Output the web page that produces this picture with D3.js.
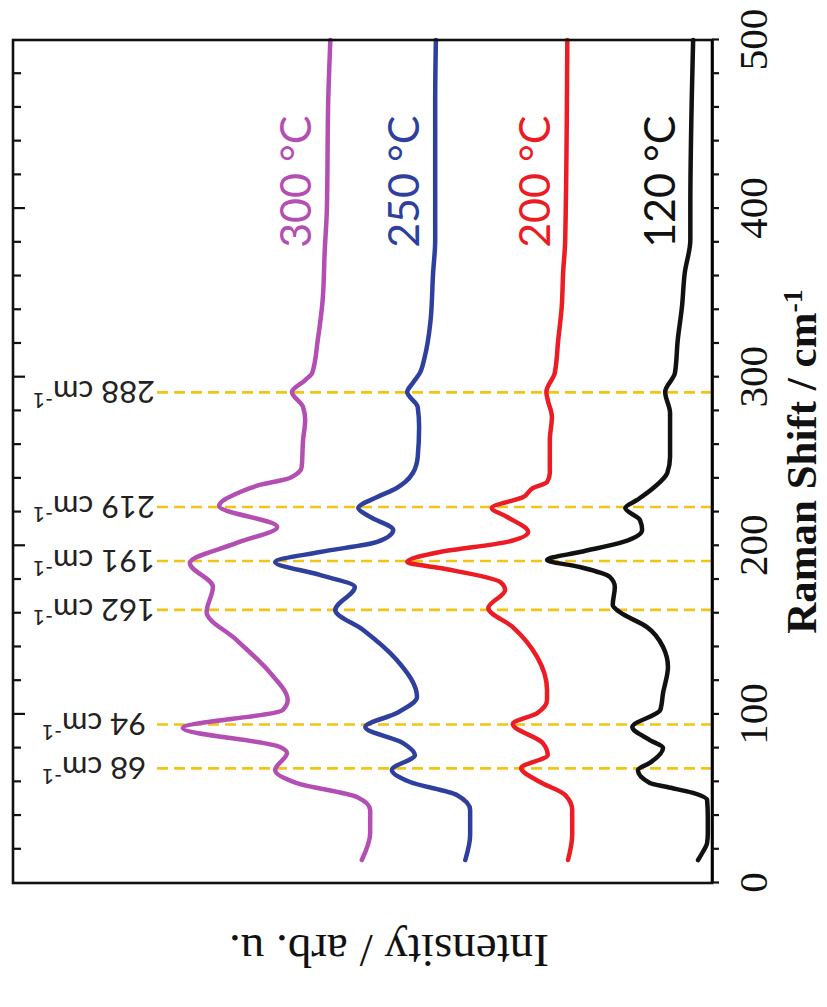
<!DOCTYPE html>
<html>
<head>
<meta charset="utf-8">
<script src="https://cdn.jsdelivr.net/npm/d3@7"></script>
<style>
  body { margin: 0; background: #fff; }
</style>
</head>
<body>
<div id="chart"></div>
<script>
// values: [Raman shift (cm-1), intensity (arb. u., offset stacked)]
const tickLabels = [0, 100, 200, 300, 400, 500];
const peakShift = [68, 94, 162, 191, 223, 291];
const peakLabels = ['68', '94', '162', '191', '219', '288'];
const tempLabels = ['120 °C', '200 °C', '250 °C', '300 °C'];

const s120 = [[13.6,2.0],[17.8,1.4],[23.7,0.7],[29.7,0.6],[39.1,0.6],[49.2,0.7],[53.4,2.7],[56.9,6.4],[59.3,8.9],[67.0,10.6],[71.2,8.9],[80.1,7.0],[84.8,8.9],[92.5,11.4],[102.6,7.4],[112.7,7.0],[128.1,6.3],[140.0,7.0],[151.8,9.3],[160.7,13.2],[164.9,14.2],[175.6,13.9],[181.5,14.6],[187.4,18.9],[191.6,23.6],[196.3,18.9],[202.3,12.7],[209.4,10.0],[215.3,10.3],[222.4,12.4],[227.2,10.7],[234.3,8.4],[243.2,6.4],[252.7,6.0],[278.8,6.0],[291.2,6.7],[302.5,5.3],[322.1,4.9],[341.6,4.3],[361.8,3.9],[381.4,3.1],[400.9,3.1],[464.4,2.9],[500.0,2.7]];

const s200 = [[13.6,20.6],[28.5,20.0],[43.3,20.0],[52.2,21.0],[59.9,24.6],[68.2,27.3],[75.9,23.5],[83.0,24.2],[94.3,28.5],[100.8,25.0],[108.5,23.6],[114.5,23.6],[134.0,25.0],[151.8,28.5],[163.1,32.0],[173.8,29.6],[178.5,30.3],[186.8,38.9],[190.4,43.6],[196.3,38.9],[202.3,29.3],[208.2,26.3],[217.1,29.3],[222.4,31.5],[228.9,27.0],[234.3,25.6],[237.8,23.6],[243.2,23.2],[262.8,23.2],[276.4,22.9],[286.5,23.5],[291.2,23.7],[302.5,22.5],[322.1,22.0],[341.6,21.5],[361.8,21.3],[381.4,21.0],[500.0,20.7]];

const s250 = [[13.6,35.3],[28.5,34.6],[43.3,34.6],[52.2,36.5],[59.9,43.2],[67.0,45.8],[75.9,42.5],[83.0,44.2],[92.5,49.6],[100.8,45.1],[110.3,42.2],[132.3,45.1],[150.1,49.9],[161.9,53.9],[175.6,51.1],[182.7,56.1],[190.4,62.5],[196.3,56.1],[202.3,47.9],[209.4,45.6],[217.1,48.9],[222.4,50.6],[228.9,47.9],[234.3,45.1],[237.8,43.9],[243.2,42.8],[252.7,42.1],[270.5,41.9],[282.3,42.1],[291.2,43.6],[296.6,42.8],[302.5,41.8],[312.0,41.1],[332.1,40.3],[361.8,39.9],[381.4,39.6],[464.4,39.6],[500.0,39.5]];

const s300 = [[13.6,50.1],[29.7,48.9],[43.3,48.9],[51.0,50.8],[59.3,59.4],[67.0,62.5],[77.1,60.8],[80.7,61.8],[91.9,75.7],[102.6,61.4],[108.5,60.7],[124.6,63.2],[144.1,68.0],[160.7,72.3],[175.6,71.4],[189.8,74.7],[201.7,68.0],[211.2,62.2],[223.6,70.5],[231.9,67.5],[236.1,64.7],[240.2,60.4],[246.7,58.7],[262.8,58.5],[274.6,58.2],[282.3,58.5],[291.2,60.1],[298.3,58.2],[302.5,57.2],[322.1,56.4],[345.8,55.7],[375.4,55.4],[399.2,55.1],[464.4,54.9],[500.0,54.6]];

const seriesList = [s120, s200, s250, s300];
const seriesColors = ['#111111', '#ec1c24', '#2f3f9e', '#b34fb3'];

const svgW = 827, svgH = 1007;
// the figure is drawn in normal orientation, then turned a quarter left
const origin = { x: 13, y: 883 };
const width = 843;   // Raman axis length
const height = 699;  // intensity axis length

const svg = d3.select('#chart')
  .append('svg')
  .attr('width', svgW)
  .attr('height', svgH);

const g = svg.append('g')
  .attr('transform', `translate(${origin.x}, ${origin.y}) rotate(-90)`);

const x = d3.scaleLinear().domain([0, 500]).range([0, width]);
const y = d3.scaleLinear().domain([0, 100]).range([height, 0]);

// dashed peak markers
g.selectAll('.peak')
  .data(peakShift)
  .enter()
  .append('line')
  .attr('x1', d => x(d))
  .attr('x2', d => x(d))
  .attr('y1', 144)
  .attr('y2', height)
  .attr('stroke', '#f2c414')
  .attr('stroke-width', 2.6)
  .attr('stroke-dasharray', '11,6');

const peakText = g.selectAll('.peak-label')
  .data(peakShift)
  .enter()
  .append('text')
  .attr('transform', d => `translate(${x(d)}, 81) rotate(-90)`)
  .attr('text-anchor', 'middle')
  .attr('dy', '0.36em')
  .style('font-family', 'Lato, "Open Sans", sans-serif')
  .style('font-size', '31px')
  .style('fill', '#222');
peakText.append('tspan').text((d, i) => peakLabels[i] + ' cm');
peakText.append('tspan')
  .attr('dy', '-0.55em')
  .style('font-size', '21px')
  .text('-1');

// spectra
const line = d3.line()
  .x(d => x(d[0]))
  .y(d => y(d[1]))
  .curve(d3.curveMonotoneX);

g.selectAll('.spec')
  .data(seriesList)
  .enter()
  .append('path')
  .attr('d', line)
  .attr('fill', 'none')
  .attr('stroke', (d, i) => seriesColors[i])
  .attr('stroke-width', 4.5)
  .attr('stroke-linejoin', 'round')
  .attr('stroke-linecap', 'round');

// temperature labels sit just above each trace near 416 cm-1
function valueAt(s, r) {
  const i = d3.bisector(d => d[0]).left(s, r);
  const a = s[Math.max(0, i - 1)], b = s[Math.min(s.length - 1, i)];
  if (a[0] === b[0]) return a[1];
  return a[1] + (b[1] - a[1]) * (r - a[0]) / (b[0] - a[0]);
}
g.selectAll('.temp')
  .data(seriesList)
  .enter()
  .append('text')
  .attr('x', x(416))
  .attr('y', d => y(valueAt(d, 416)) - 16)
  .attr('text-anchor', 'middle')
  .style('font-family', 'Lato, "Open Sans", sans-serif')
  .style('font-size', '43px')
  .style('fill', (d, i) => seriesColors[i])
  .text((d, i) => tempLabels[i]);

// frame
g.append('rect')
  .attr('x', 0)
  .attr('y', 0)
  .attr('width', width)
  .attr('height', height)
  .attr('fill', 'none')
  .attr('stroke', '#111')
  .attr('stroke-width', 2.6);

// bottom (Raman) axis
const xAxis = d3.axisBottom(x)
  .tickValues(d3.range(0, 501, 20))
  .tickSize(7)
  .tickSizeOuter(0)
  .tickPadding(19)
  .tickFormat(d => tickLabels.includes(d) ? d : '');
const xg = g.append('g')
  .attr('transform', `translate(0, ${height})`)
  .call(xAxis);
xg.select('.domain').attr('stroke-width', 2.6);
xg.selectAll('.tick line').attr('stroke', '#111').attr('stroke-width', 2.2);
xg.selectAll('text')
  .style('font-family', '"Liberation Serif", "Times New Roman", serif')
  .style('font-size', '41px')
  .style('fill', '#111');

// mirrored ticks along the top
const topMinor = g.append('g')
  .call(d3.axisTop(x).tickValues(d3.range(20, 500, 20).filter(d => d % 100 !== 0)).tickSize(-8).tickSizeOuter(0).tickFormat(''));
const topMajor = g.append('g')
  .call(d3.axisTop(x).tickValues(d3.range(100, 500, 100)).tickSize(-12).tickSizeOuter(0).tickFormat(''));
[topMinor, topMajor].forEach(a => {
  a.select('.domain').remove();
  a.selectAll('.tick line').attr('stroke', '#111').attr('stroke-width', 2.2);
});

// axis titles
const xt = g.append('text')
  .attr('x', width / 2)
  .attr('y', 803)
  .attr('text-anchor', 'middle')
  .style('font-family', '"Liberation Serif", "Times New Roman", serif')
  .style('font-weight', 'bold')
  .style('font-size', '43px')
  .style('fill', '#111');
xt.append('tspan').text('Raman Shift / cm');
xt.append('tspan')
  .attr('dy', '-0.5em')
  .style('font-size', '28px')
  .text('-1');

g.append('text')
  .attr('transform', `translate(-52, 376) rotate(-90)`)
  .attr('text-anchor', 'middle')
  .style('font-family', '"Liberation Serif", "Times New Roman", serif')
  .style('font-size', '47px')
  .style('fill', '#111')
  .text('Intensity / arb. u.');
</script>
</body>
</html>
